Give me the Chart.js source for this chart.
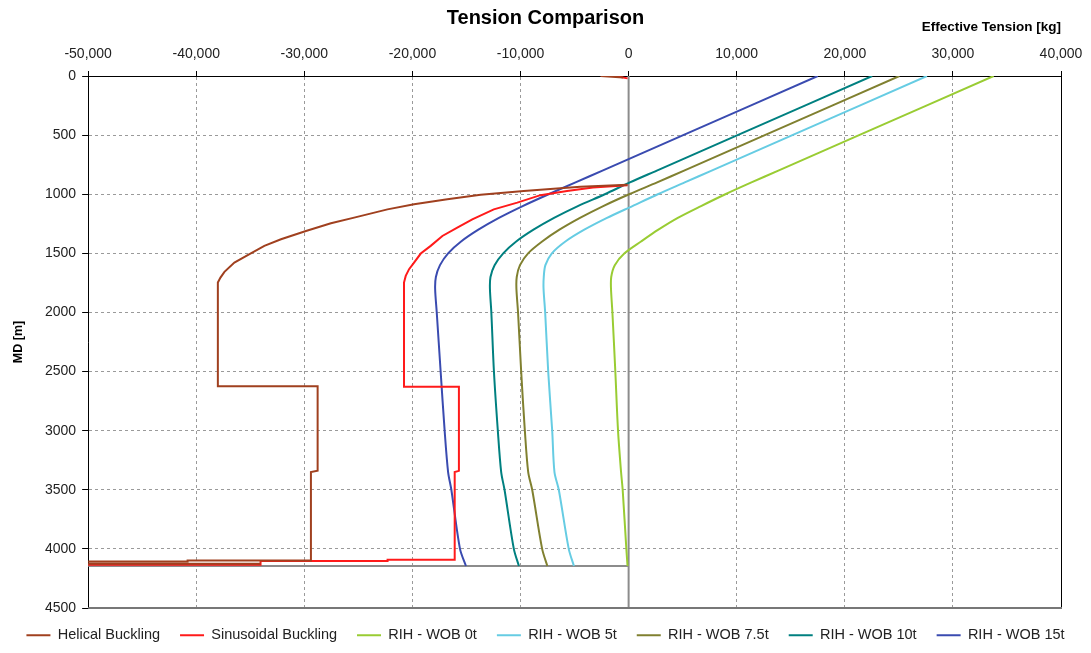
<!DOCTYPE html>
<html>
<head>
<meta charset="utf-8">
<script src="https://cdn.jsdelivr.net/npm/chart.js@4.4.1/dist/chart.umd.min.js"></script>
<style>
html,body{margin:0;padding:0;background:#fff;}
#wrap{width:1091px;height:653px;}
</style>
</head>
<body>
<div id="wrap"><canvas id="c" width="1091" height="653"></canvas></div>
<script>
// ---- Data (MD in m, effective tension in kg) ----
const chartTitle = 'Tension Comparison';
const xAxisTitle = 'Effective Tension [kg]';
const yAxisTitle = 'MD [m]';
const xTicks = [-50000, -40000, -30000, -20000, -10000, 0, 10000, 20000, 30000, 40000];
const yTicks = [0, 500, 1000, 1500, 2000, 2500, 3000, 3500, 4000, 4500];

const seriesNames = ['Helical Buckling', 'Sinusoidal Buckling', 'RIH - WOB 0t', 'RIH - WOB 5t', 'RIH - WOB 7.5t', 'RIH - WOB 10t', 'RIH - WOB 15t'];

// RIH effective tension curves
const wobDepth = [0, 500, 800, 900, 1000, 1100, 1200, 1300, 1400, 1500, 1600, 1700, 1800, 2000, 2500, 3000, 3350, 3500, 4000, 4145];
const wob0t   = [33770, 21320, 13850, 11360, 8950, 6700, 4550, 2750, 1150, -380, -1280, -1610, -1630, -1500, -1230, -980, -700, -550, -210, -100];
const wob5t   = [27600, 15150, 7680, 5190, 2700, 350, -2000, -4100, -5850, -7100, -7700, -7850, -7870, -7720, -7440, -7070, -6860, -6460, -5540, -5060];
const wob7_5t = [25050, 12600, 5130, 2640, 50, -2350, -4500, -6400, -8000, -9300, -10050, -10350, -10380, -10230, -9940, -9600, -9290, -8920, -8000, -7520];
const wob10t  = [22530, 10080, 2610, 120, -2200, -4700, -6900, -8800, -10400, -11600, -12400, -12780, -12830, -12700, -12460, -12100, -11790, -11480, -10620, -10150];
const wob15t  = [17500, 5050, -2420, -4910, -7400, -9800, -12000, -13900, -15500, -16700, -17450, -17830, -17900, -17750, -17390, -17020, -16700, -16400, -15600, -15050];

// Helical buckling limit
const helicalTopDepth = [0, 12];
const helicalTopValue = [-2600, -500];
const helicalDepth = [920, 936, 953, 973, 1005, 1043, 1085, 1128, 1198, 1246, 1311, 1381, 1437, 1516, 1578, 1657, 1705, 1747, 2625, 2625, 3338, 3350, 4098, 4098, 4106, 4106, 4126, 4126];
const helicalValue = [-100, -4460, -6930, -9700, -13690, -16770, -19850, -22310, -25390, -27540, -29850, -32160, -33700, -35240, -36470, -37390, -37760, -38000, -38000, -28770, -28770, -29390, -29390, -40800, -40800, -60000, -60000, -34050];

// Sinusoidal buckling limit
const sinTopDepth = [0, 20];
const sinTopValue = [-1250, -100];
const sinDepth = [925, 944, 973, 1008, 1071, 1128, 1212, 1282, 1353, 1437, 1502, 1578, 1634, 1691, 1747, 2628, 2628, 3340, 3350, 4092, 4092, 4103, 4103, 4134, 4134];
const sinValue = [-100, -3300, -5700, -8150, -10300, -12470, -14460, -15850, -17230, -18310, -19230, -19850, -20310, -20620, -20780, -20780, -15700, -15700, -16090, -16090, -22300, -22300, -34050, -34050, -60000];

// Reference lines
const bitDepth = 4145;
const bitLineTension = [-50000, 0];
const zeroLineDepth = [0, 4500];

const colors = ['#A0401F', '#FF1A1A', '#99CC33', '#66CCE3', '#808030', '#008080', '#3A4BB0'];
const refColor = '#8c8c8c';

function toPts(depths, values) {
  return depths.map((d, i) => ({ x: values[i], y: d }));
}
const gap = [{ x: null, y: null }];

const seriesData = [
  toPts(helicalTopDepth, helicalTopValue).concat(gap, toPts(helicalDepth, helicalValue)),
  toPts(sinTopDepth, sinTopValue).concat(gap, toPts(sinDepth, sinValue)),
  toPts(wobDepth, wob0t),
  toPts(wobDepth, wob5t),
  toPts(wobDepth, wob7_5t),
  toPts(wobDepth, wob10t),
  toPts(wobDepth, wob15t)
];

const datasets = seriesNames.map((name, i) => ({
  label: name,
  data: seriesData[i],
  borderColor: colors[i],
  backgroundColor: colors[i],
  borderWidth: 2,
  pointRadius: 0,
  showLine: true,
  tension: i < 2 ? 0 : 0.3
}));
datasets.push({
  label: 'Bit depth',
  data: bitLineTension.map(v => ({ x: v, y: bitDepth })),
  borderColor: refColor, borderWidth: 2, pointRadius: 0, showLine: true
});
datasets.push({
  label: 'Zero',
  data: zeroLineDepth.map(d => ({ x: 0, y: d })),
  borderColor: refColor, borderWidth: 2, pointRadius: 0, showLine: true
});

const FONT = 'Arial, "Liberation Sans", sans-serif';

const framePlugin = {
  id: 'frame',
  beforeLayout(chart) {
    const lg = chart.legend;
    if (lg && !lg._patched) {
      const orig = lg.fit;
      lg.fit = function () { orig.call(this); this.height = 45; };
      lg._patched = true;
    }
  },
  afterDraw(chart) {
    const { ctx, chartArea: a } = chart;
    ctx.save();
    ctx.strokeStyle = '#000';
    ctx.lineWidth = 1;
    ctx.beginPath();
    ctx.moveTo(a.right + 0.5, a.top);
    ctx.lineTo(a.right + 0.5, a.bottom);
    ctx.stroke();
    ctx.strokeStyle = '#777';
    ctx.lineWidth = 2;
    ctx.beginPath();
    ctx.moveTo(a.left, a.bottom);
    ctx.lineTo(a.right + 1, a.bottom);
    ctx.stroke();
    ctx.restore();
  }
};

new Chart(document.getElementById('c'), {
  type: 'scatter',
  data: { datasets },
  plugins: [framePlugin],
  options: {
    responsive: false,
    animation: false,
    layout: { padding: { left: 0, right: 0, top: 0, bottom: 0 } },
    plugins: {
      title: {
        display: true,
        text: chartTitle,
        color: '#000',
        font: { family: FONT, size: 20, weight: 'bold', lineHeight: 1.2 },
        padding: { top: 6, bottom: -12 }
      },
      legend: {
        position: 'bottom',
        labels: {
          usePointStyle: true,
          pointStyle: 'line',
          pointStyleWidth: 24,
          padding: 20,
          color: '#222',
          font: { family: FONT, size: 14.5 },
          filter: item => item.datasetIndex < seriesNames.length
        }
      },
      tooltip: { enabled: false }
    },
    scales: {
      x: {
        type: 'linear',
        position: 'top',
        min: xTicks[0],
        max: xTicks[xTicks.length - 1],
        afterBuildTicks: s => { s.ticks = xTicks.map(v => ({ value: v })); },
        ticks: {
          color: '#222',
          padding: 8,
          maxRotation: 0,
          font: { family: FONT, size: 14 },
          callback: v => Number(v).toLocaleString('en-US')
        },
        grid: { color: '#9a9a9a', lineWidth: 1, tickLength: 5, tickColor: '#000', tickBorderDash: [] },
        border: { display: true, color: '#000', width: 1, dash: [3, 3] },
        title: {
          display: true,
          text: xAxisTitle,
          align: 'end',
          color: '#000',
          font: { family: FONT, size: 13.5, weight: 'bold', lineHeight: 1.2 },
          padding: { top: 1, bottom: 3 }
        }
      },
      y: {
        type: 'linear',
        reverse: true,
        min: yTicks[0],
        max: yTicks[yTicks.length - 1],
        afterBuildTicks: s => { s.ticks = yTicks.map(v => ({ value: v })); },
        ticks: {
          color: '#222',
          padding: 6,
          font: { family: FONT, size: 14 },
          callback: v => String(v)
        },
        grid: { color: '#9a9a9a', lineWidth: 1, tickLength: 6, tickColor: '#000', tickBorderDash: [] },
        border: { display: true, color: '#000', width: 1, dash: [3, 3] },
        title: {
          display: true,
          text: yAxisTitle,
          color: '#000',
          font: { family: FONT, size: 12.5, weight: 'bold', lineHeight: 1.2 },
          padding: { top: 11, bottom: 13 }
        }
      },
      ySpacer: {
        type: 'linear',
        position: 'right',
        display: true,
        ticks: { display: false },
        grid: { display: false, drawTicks: false },
        border: { display: false },
        afterFit: s => { s.width = 30; }
      }
    }
  }
});
</script>
</body>
</html>
